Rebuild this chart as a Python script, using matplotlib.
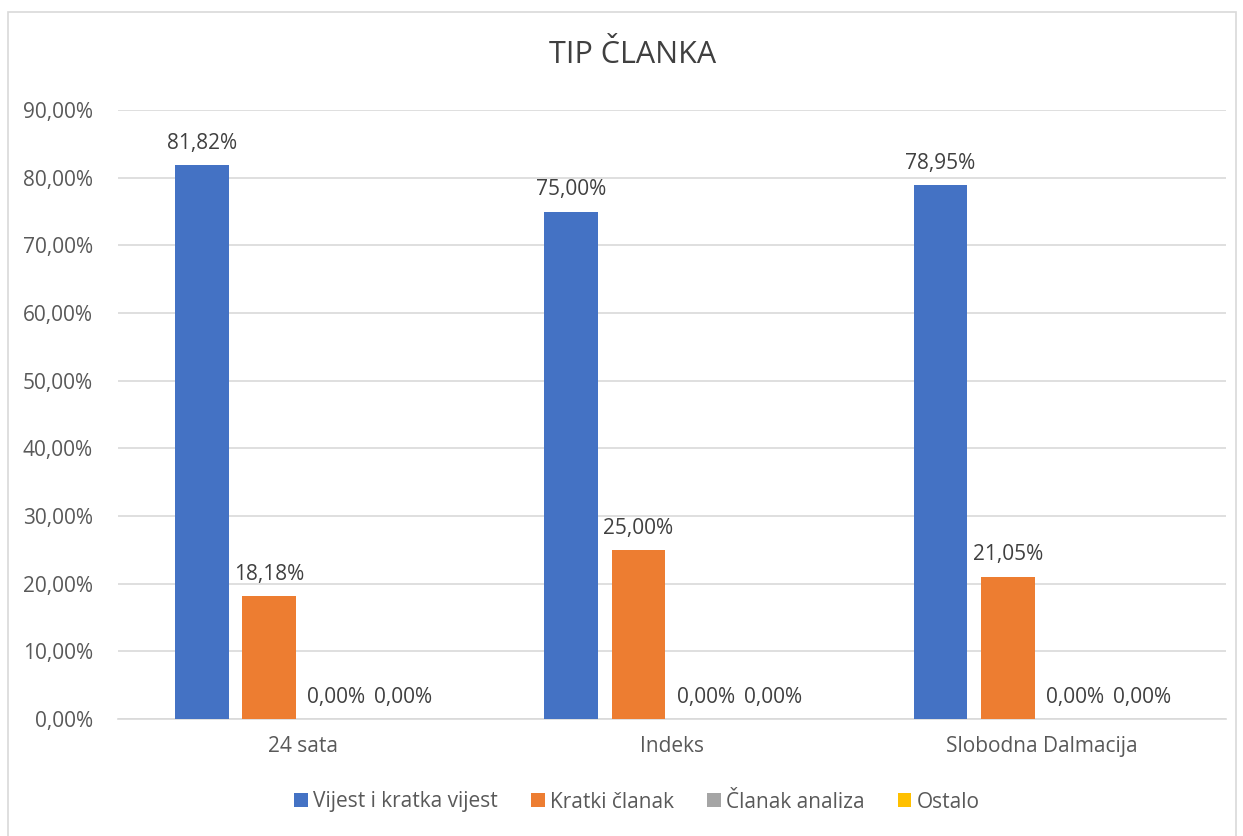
import numpy as np
import matplotlib.pyplot as plt
from matplotlib.patches import Rectangle

plt.rcParams['font.family'] = ['Open Sans', 'DejaVu Sans']

categories = ['24 sata', 'Indeks', 'Slobodna Dalmacija']
series = ['Vijest i kratka vijest', 'Kratki članak', 'Članak analiza', 'Ostalo']
vijest = [81.82, 75.00, 78.95]
kratki = [18.18, 25.00, 21.05]
analiza = [0.0, 0.0, 0.0]
ostalo = [0.0, 0.0, 0.0]
colors = ['#4472C4', '#ED7D31', '#A5A5A5', '#FFC000']
text_col = '#595959'

fig = plt.figure(figsize=(12.43, 8.36), dpi=100)
ax = fig.add_axes([118/1243, 1 - 719/836, (1226-118)/1243, (719-110)/836])

# chart border
fig.patches.append(Rectangle((8/1243, -0.02), (1236-8)/1243, 1 - 12/836 + 0.02,
                             transform=fig.transFigure, fill=False,
                             edgecolor='#D9D9D9', lw=1.2))

x = np.arange(len(categories))
slot = 0.182
width = 0.145
for i, (vals, name) in enumerate(zip([vijest, kratki, analiza, ostalo], series)):
    pos = x + (i - 1.5) * slot
    bars = ax.bar(pos, vals, width, color=colors[i], label=name, zorder=3)
    for b, v in zip(bars, vals):
        ax.annotate(f'{v:.2f}%'.replace('.', ','), (b.get_x() + b.get_width()/2, v),
                    xytext=(0, 8), textcoords='offset points', ha='center', va='bottom',
                    fontsize=15, color='#404040')

ax.set_xlim(-0.5, 2.5)
ax.set_ylim(0, 90)
ax.set_yticks(np.arange(0, 91, 10))
ax.set_yticklabels([f'{t:.2f}%'.replace('.', ',') for t in np.arange(0, 91, 10)])
ax.set_xticks(x)
ax.set_xticklabels(categories)
ax.tick_params(axis='both', length=0, labelsize=15, labelcolor=text_col)
ax.tick_params(axis='y', pad=18)
ax.tick_params(axis='x', pad=12)
ax.grid(axis='y', color='#D9D9D9', lw=1.2, zorder=0)
for s in ['top', 'right', 'left']:
    ax.spines[s].set_visible(False)
ax.spines['bottom'].set_color('#D9D9D9')
ax.spines['bottom'].set_linewidth(1.2)

fig.text(633/1243, 1 - 55/836, 'TIP ČLANKA', ha='center', va='center', fontsize=22, color='#404040')
fig.legend(loc='center', bbox_to_anchor=(637/1243, 1 - 802/836), ncol=4, frameon=False,
           fontsize=15, handlelength=0.65, handleheight=0.65, handletextpad=0.25,
           columnspacing=1.6, labelcolor=text_col)

fig.savefig('out.png', dpi=100)
